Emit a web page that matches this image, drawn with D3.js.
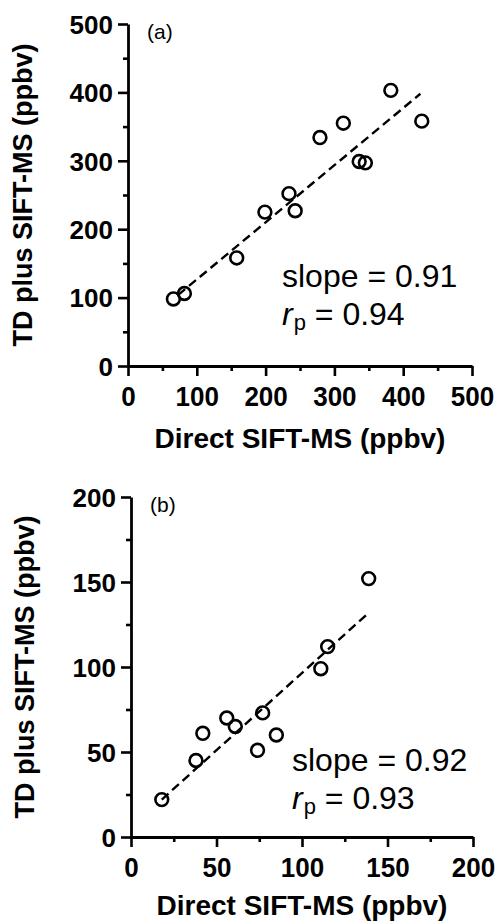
<!DOCTYPE html>
<html>
<head>
<meta charset="utf-8">
<script src="https://cdn.jsdelivr.net/npm/d3@7"></script>
<style>
  html, body { margin: 0; padding: 0; background: #fff; }
  svg { display: block; }
  text { font-family: "Liberation Sans", Arial, Helvetica, sans-serif; fill: #000; }
</style>
</head>
<body>
<svg id="chart" width="495" height="922"></svg>
<script>
// ---- Data ----
// Panel (a)
const aDirect = [66, 82, 158, 199, 234, 243, 279, 313, 336, 345, 382, 427];
const aTD     = [98, 106, 158, 225, 252, 227, 334, 355, 299, 297, 403, 358];
const aFit    = [[73, 104], [425, 398]];
const aTicks  = [0, 100, 200, 300, 400, 500];
const aMinor  = [50, 150, 250, 350, 450];
const aText   = ["slope = 0.91", "0.94"];

// Panel (b)
const bDirect = [18, 38, 42, 56, 61, 74, 77, 85, 111, 115, 139];
const bTD     = [22, 45, 61, 70, 65, 51, 73, 60, 99, 112, 152];
const bFit    = [[18, 22], [138, 131]];
const bTicks  = [0, 50, 100, 150, 200];
const bMinor  = [25, 75, 125, 175];
const bText   = ["slope = 0.92", "0.93"];

const xLabel = "Direct SIFT-MS (ppbv)";
const yLabel = "TD plus SIFT-MS (ppbv)";

const svg = d3.select("#chart");

function panel(cfg) {
  const x = d3.scaleLinear().domain(cfg.xDomain).range(cfg.xRange);
  const y = d3.scaleLinear().domain(cfg.yDomain).range(cfg.yRange);
  const g = svg.append("g");

  // minor ticks
  g.append("g").attr("transform", `translate(0,${cfg.yRange[0]})`)
    .call(d3.axisBottom(x).tickValues(cfg.minor).tickSize(5).tickFormat("").tickSizeOuter(0))
    .call(s => s.select(".domain").remove());
  g.append("g").attr("transform", `translate(${cfg.xRange[0]},0)`)
    .call(d3.axisLeft(y).tickValues(cfg.minor).tickSize(5).tickFormat("").tickSizeOuter(0))
    .call(s => s.select(".domain").remove());

  // major axes
  const xa = g.append("g").attr("transform", `translate(0,${cfg.yRange[0]})`)
    .call(d3.axisBottom(x).tickValues(cfg.ticks).tickSize(10).tickPadding(9).tickSizeOuter(0));
  const ya = g.append("g").attr("transform", `translate(${cfg.xRange[0]},0)`)
    .call(d3.axisLeft(y).tickValues(cfg.ticks).tickSize(10).tickPadding(5).tickSizeOuter(0));

  [xa, ya].forEach(a => {
    a.selectAll("text").style("font-size", "26px").style("font-weight", "bold")
      .style("font-family", '"Liberation Sans", Arial, sans-serif');
  });
  xa.selectAll("text").attr("transform", "scale(1,1.07)");
  g.selectAll(".domain").attr("stroke-width", 2.8).attr("stroke", "#000");
  g.selectAll(".tick line").attr("stroke-width", 2.6).attr("stroke", "#000");
  ya.selectAll("text").attr("dy", "0.36em");

  // axis labels
  g.append("text")
    .attr("x", (cfg.xRange[0] + cfg.xRange[1]) / 2)
    .attr("y", cfg.xLabelY)
    .attr("text-anchor", "middle")
    .style("font-size", "28px").style("font-weight", "bold")
    .text(xLabel);
  g.append("text")
    .attr("transform", `translate(${cfg.yLabelX},${(cfg.yRange[0] + cfg.yRange[1]) / 2}) rotate(-90)`)
    .attr("text-anchor", "middle")
    .style("font-size", "27px").style("font-weight", "bold")
    .text(yLabel);

  // panel letter
  g.append("text")
    .attr("x", cfg.xRange[0] + 19)
    .attr("y", cfg.yRange[1] + 15)
    .style("font-size", "21px")
    .text(cfg.letter);

  // fit line
  g.append("line")
    .attr("x1", x(cfg.fit[0][0])).attr("y1", y(cfg.fit[0][1]))
    .attr("x2", x(cfg.fit[1][0])).attr("y2", y(cfg.fit[1][1]))
    .attr("stroke", "#000").attr("stroke-width", 2.4)
    .attr("stroke-dasharray", "9,5");

  // points
  g.selectAll("circle.pt").data(cfg.xs.map((d, i) => [d, cfg.ys[i]]))
    .join("circle").attr("class", "pt")
    .attr("cx", d => x(d[0])).attr("cy", d => y(d[1]))
    .attr("r", 6.4).attr("fill", "none")
    .attr("stroke", "#000").attr("stroke-width", 2.6);

  // stats text
  g.append("text")
    .attr("x", cfg.statX).attr("y", cfg.statY)
    .style("font-size", "32px")
    .text(cfg.stats[0]);
  const t2 = g.append("text")
    .attr("x", cfg.statX).attr("y", cfg.statY + 38)
    .style("font-size", "32px");
  t2.append("tspan").style("font-style", "italic").text("r");
  t2.append("tspan").style("font-size", "22px").attr("dy", 5).attr("dx", 1).text("p");
  t2.append("tspan").attr("dy", -5).text(" = " + cfg.stats[1]);
}

panel({
  xs: aDirect, ys: aTD, fit: aFit, ticks: aTicks, minor: aMinor, stats: aText,
  xDomain: [0, 500], yDomain: [0, 500],
  xRange: [128, 472], yRange: [366, 24],
  xLabelY: 448, yLabelX: 32, letter: "(a)",
  statX: 282, statY: 287
});

panel({
  xs: bDirect, ys: bTD, fit: bFit, ticks: bTicks, minor: bMinor, stats: bText,
  xDomain: [0, 200], yDomain: [0, 200],
  xRange: [131, 473], yRange: [837, 497],
  xLabelY: 915, yLabelX: 34, letter: "(b)",
  statX: 292, statY: 771
});
</script>
</body>
</html>
